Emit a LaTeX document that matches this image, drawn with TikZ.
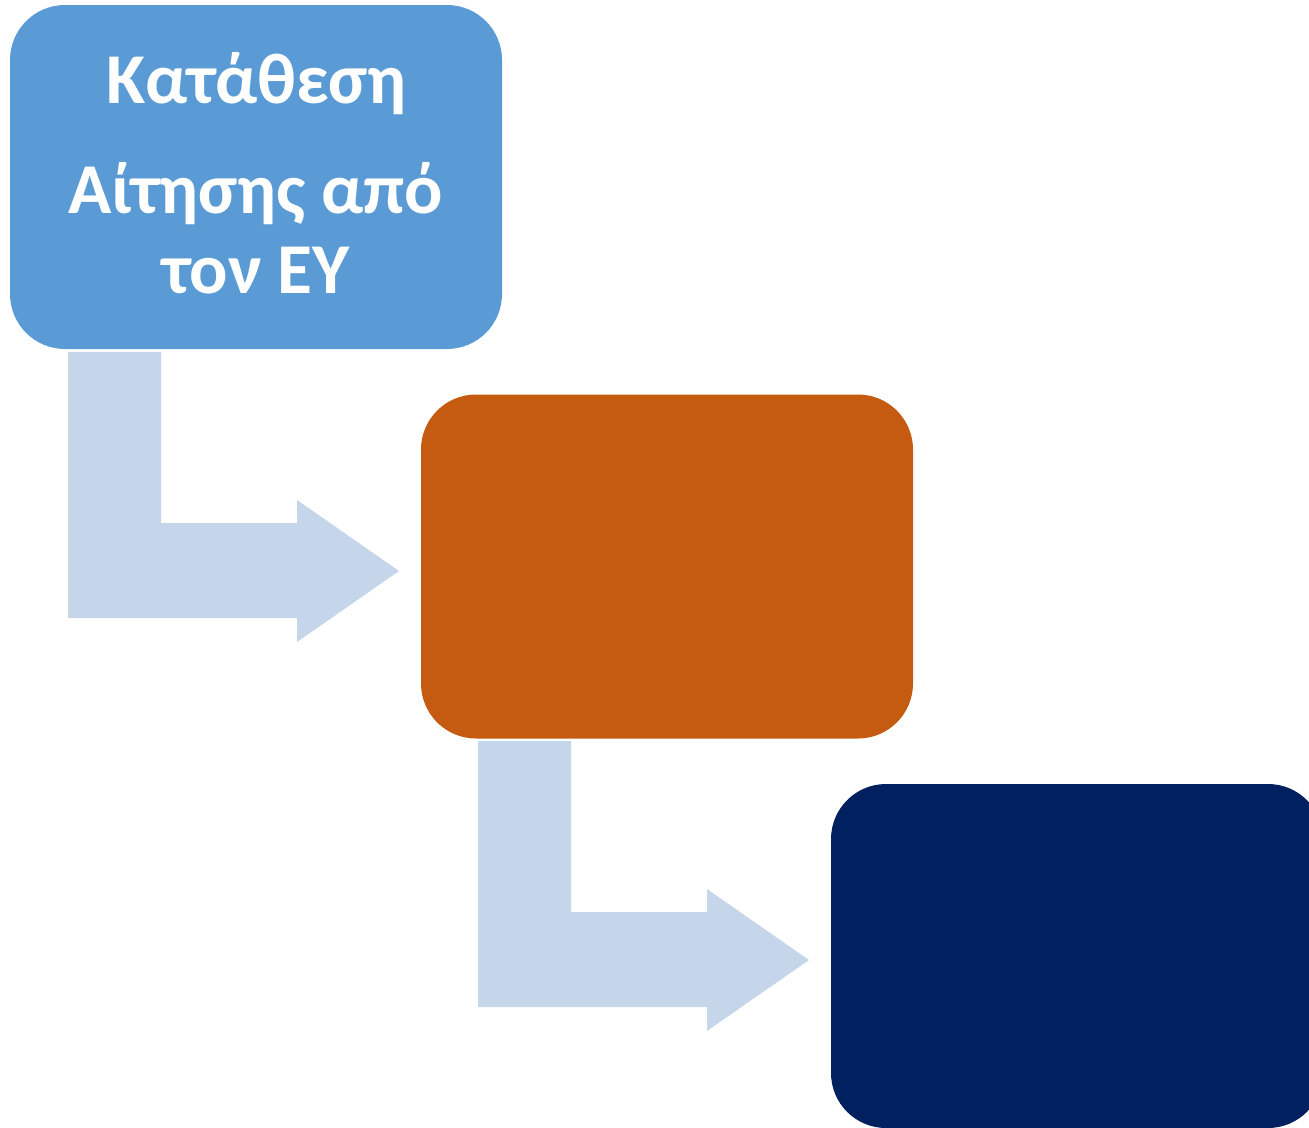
\documentclass[tikz,border=0pt]{standalone}
\usepackage{fontspec}
\setmainfont{Carlito}
\definecolor{boxblue}{HTML}{5B9BD5}
\definecolor{boxorange}{HTML}{C55A11}
\definecolor{boxnavy}{HTML}{002060}
\definecolor{arrowblue}{HTML}{C5D5EA}
\tikzset{
  stagebox/.style={rectangle, rounded corners=55pt, minimum width=492pt, minimum height=344pt, inner sep=0pt, draw=none},
  bentarrow/.style={fill=arrowblue, draw=none},
  boxtext/.style={text=white, font=\fontsize{71.5}{80}\selectfont\bfseries, align=center, inner sep=0pt}
}
\begin{document}
\begin{tikzpicture}[x=1pt,y=-1pt]
\useasboundingbox (0,0) rectangle (1309,1127);
\clip (0,0) rectangle (1309,1127);
\node[stagebox, fill=boxblue] (b1) at (256,177) {};
\node[stagebox, fill=boxorange] (b2) at (667,566.5) {};
\node[stagebox, fill=boxnavy] (b3) at (1077,956) {};
\node[boxtext, anchor=base] (t1) at (256,103) {Κατάθεση};
\node[boxtext, anchor=base] (t2) at (256,213) {Αίτησης από};
\node[boxtext, anchor=base] (t3) at (256,293) {τον ΕΥ};
\fill[bentarrow] (68,352) -- (161,352) -- (161,523) -- (297,523) -- (297,500) -- (399,571) -- (297,642) -- (297,618) -- (68,618) -- cycle;
\fill[bentarrow] (478,741) -- (571,741) -- (571,912) -- (707,912) -- (707,889) -- (809,960) -- (707,1031) -- (707,1007) -- (478,1007) -- cycle;
\end{tikzpicture}
\end{document}
